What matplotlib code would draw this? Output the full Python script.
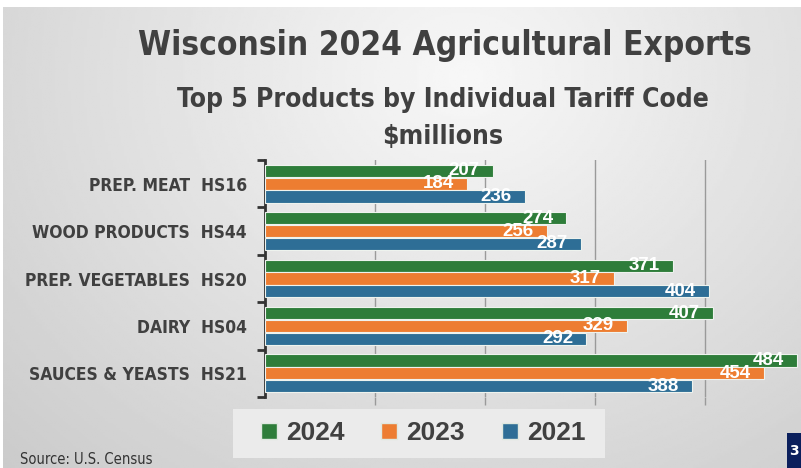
import numpy as np
import matplotlib.pyplot as plt
from matplotlib.patches import Rectangle
from matplotlib.lines import Line2D

# data ($ millions)
products = ["PREP. MEAT  HS16", "WOOD PRODUCTS  HS44", "PREP. VEGETABLES  HS20",
            "DAIRY  HS04", "SAUCES & YEASTS  HS21"]
years = ["2024", "2023", "2021"]
vals_2024 = [207, 274, 371, 407, 484]
vals_2023 = [184, 256, 317, 329, 454]
vals_2021 = [236, 287, 404, 292, 388]
colors = ["#2E7D3A", "#ED7D31", "#2E6E96"]

narrow = dict(family="DejaVu Sans", stretch="condensed")
txtc = "#404040"

fig = plt.figure(figsize=(8.01, 4.68), dpi=100)
fig.patch.set_facecolor("white")

# gradient slide background
bg = fig.add_axes([3/801, 0, 1 - 3/801, 461/468])
bg.set_axis_off()
yy, xx = np.mgrid[0:1:200j, 0:1:300j]
r = np.sqrt(((xx - 0.58) / 0.75) ** 2 + ((yy - 0.15) / 1.1) ** 2)
img = 0.97 - 0.16 * np.clip(r, 0, 1.2)
bg.imshow(img, cmap="gray", vmin=0, vmax=1, aspect="auto", extent=[0, 1, 1, 0])
bg.set_xlim(0, 1); bg.set_ylim(1, 0)

# titles
fig.text(445/801, 1 - 46/468, "Wisconsin 2024 Agricultural Exports", **narrow,
         weight="bold", size=24, color=txtc, ha="center", va="center")
fig.text(443/801, 1 - 100/468, "Top 5 Products by Individual Tariff Code", **narrow,
         weight="bold", size=19, color=txtc, ha="center", va="center")
fig.text(443/801, 1 - 137/468, "$millions", **narrow,
         weight="bold", size=19, color=txtc, ha="center", va="center")

ax = fig.add_axes([265/801, (468 - 397)/468, 1 - 265/801, (397 - 160)/468])
ax.patch.set_alpha(0)
y = np.arange(len(products))
h = 0.26
for vals, col, off in zip([vals_2024, vals_2023, vals_2021], colors, [-0.27, 0, 0.27]):
    ax.barh(y + off, vals, height=h, color=col, edgecolor="#eef3ee", linewidth=0.8, zorder=3)
    for yi, v in zip(y, vals):
        ax.annotate(str(v), (v, yi + off), xytext=(-9.4, 0), textcoords="offset points",
                    ha="right", va="center", color="white", weight="bold", size=13.5,
                    family=["Liberation Sans", "DejaVu Sans"], zorder=4)

ax.set_xlim(0, 487.3)
ax.set_ylim(len(products) - 0.5, -0.5)
ax.set_xticks([100, 200, 300, 400])
ax.set_xticklabels([])
ax.xaxis.grid(True, color="#9a9a9a", linewidth=1, zorder=0)
ax.tick_params(axis="x", length=6, color="#9a9a9a", width=1)
ax.set_yticks(y)
ax.set_yticklabels(products, **narrow, weight="bold", size=12.5, color=txtc)
ax.tick_params(axis="y", which="major", length=0, pad=13)
ax.set_yticks(np.arange(-0.5, len(products)), minor=True)
ax.tick_params(axis="y", which="minor", length=6, width=2, color="#333333")
for s in ["top", "right", "bottom"]:
    ax.spines[s].set_visible(False)
ax.spines["left"].set_color("#333333")
ax.spines["left"].set_linewidth(2)

# legend box
fig.patches.append(Rectangle((233/801, (468 - 458)/468), (605 - 233)/801, 49/468,
                             transform=fig.transFigure, facecolor="#ebebeb",
                             edgecolor="none", zorder=1))
handles = [Line2D([], [], marker="s", linestyle="none", markersize=11,
                  markerfacecolor=c, markeredgecolor="#dfe8df") for c in colors]
leg = fig.legend(handles, years, loc="center", bbox_to_anchor=(422/801, 1 - 433/468),
                 ncol=3, frameon=False, handlelength=0.8, handletextpad=0.25,
                 columnspacing=1.3,
                 prop={"family": "Liberation Sans", "weight": "bold", "size": 19})
for t in leg.get_texts():
    t.set_color(txtc)

fig.text(20/801, 1 - 459/468, "Source: U.S. Census", **narrow, size=10.5,
         color="#333333", ha="left", va="center")

# page number box at bottom right
fig.patches.append(Rectangle((787/801, 0), 14/801, 35/468, transform=fig.transFigure,
                             facecolor="#0B1F5C", edgecolor="none", zorder=2))
fig.text(794/801, 17/468, "3", color="white", weight="bold", size=10,
         ha="center", va="center", zorder=3)

plt.savefig("out.png", dpi=100)
